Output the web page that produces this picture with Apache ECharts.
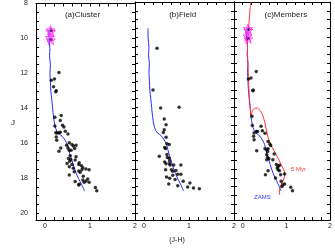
<!DOCTYPE html>
<html><head><meta charset="utf-8">
<script src="https://cdn.jsdelivr.net/npm/echarts@6/dist/echarts.min.js"></script>
<style>html,body{margin:0;padding:0;background:#fff}#c{width:335px;height:252px}</style>
</head><body><div id="c"></div>
<script>
// Panel titles and axis labels
const panelTitles = ['(a)Cluster', '(b)Field', '(c)Members'];
const xTitle = '(J-H)';
const yTitle = 'J';

// (a) Cluster stars
const clusterJH = [0.14,0.13,0.31,0.14,0.21,0.19,0.24,0.25,0.22,0.36,0.34,0.39,0.42,0.22,0.45,0.24,0.27,0.31,0.34,0.51,0.25,0.26,0.35,0.31,0.48,0.54,0.60,0.63,0.69,0.66,0.54,0.58,0.51,0.56,0.52,0.57,0.55,0.69,0.67,0.49,0.54,0.60,0.63,0.54,0.75,0.76,0.81,0.84,0.91,0.75,0.78,0.82,0.98,0.85,0.95,0.91,0.98,0.87,0.76,0.67,0.84,1.12,1.15,0.75,0.65];
const clusterJ  = [9.55,10.08,11.95,12.39,12.33,12.77,13.05,13.0,14.51,14.41,14.7,14.98,15.08,15.02,15.32,15.4,15.42,15.4,15.37,15.48,15.64,15.83,16.27,16.46,16.12,15.97,16.08,16.16,16.12,16.31,16.40,16.40,16.27,16.72,16.88,16.93,17.03,16.78,16.97,17.16,17.35,17.22,17.44,17.82,17.22,17.12,17.29,17.41,17.48,17.60,17.67,17.52,17.52,17.90,18.05,18.16,18.24,18.24,18.35,18.20,18.11,18.54,18.73,18.39,17.63];

// (b) Field stars
const fieldJH = [0.29,0.20,0.37,0.78,0.45,0.49,0.45,0.43,0.49,0.51,0.56,0.46,0.48,0.34,0.51,0.52,0.56,0.57,0.46,0.49,0.57,0.58,0.66,0.82,0.48,0.61,0.64,0.71,0.82,0.75,0.64,0.57,0.69,0.87,0.55,0.75,1.02,0.97,1.10,1.23,0.50];
const fieldJ  = [10.63,13.0,14.03,13.98,14.66,14.98,15.26,15.42,15.70,16.06,16.10,16.27,16.34,16.78,16.68,16.84,16.89,17.05,17.1,17.2,17.2,17.27,17.27,17.27,17.54,17.54,17.63,17.58,17.8,17.8,17.86,18.03,18.1,18.2,18.35,18.45,18.3,18.52,18.58,18.62,17.95];

// (c) Members
const memberJH = [0.14,0.13,0.31,0.13,0.19,0.23,0.24,0.21,0.22,0.31,0.34,0.26,0.42,0.45,0.51,0.25,0.26,0.32,0.58,0.51,0.55,0.58,0.57,0.62,0.64,0.55,0.57,0.60,0.55,0.72,0.69,0.52,0.58,0.77,0.81,0.84,0.79,0.81,0.84,0.75,0.87,0.96,0.88,0.92,0.90,0.96,1.10,1.14];
const memberJ  = [9.55,10.08,11.95,12.38,12.33,13.05,13.0,14.5,15.03,15.36,15.36,15.45,15.07,15.32,15.47,15.64,15.83,16.46,15.93,16.35,16.40,16.35,16.50,16.08,16.16,16.69,16.84,16.91,16.97,16.65,16.97,17.82,17.6,17.25,17.35,17.29,17.44,17.54,17.6,18.01,17.82,17.78,18.2,18.39,18.49,18.35,18.54,18.73];

// Bright (magenta star) sources
const brightJH = [0.12,0.13,0.11,0.13];
const brightJ  = [9.52,9.62,9.95,10.1];

// ZAMS curve
const zamsJH = [0.09,0.09,0.11,0.10,0.12,0.11,0.12,0.13,0.15,0.17,0.19,0.22,0.26,0.30,0.38,0.45,0.50,0.55,0.60,0.66,0.74,0.81,0.88];
const zamsJ  = [9.5,10.0,10.6,11.0,11.5,12.0,12.5,13.0,13.5,14.0,14.5,15.0,15.3,15.45,15.6,15.85,16.1,16.6,17.0,17.5,18.0,18.35,18.75];

// 5 Myr isochrone
const isoJH = [0.19,0.17,0.15,0.13,0.11,0.11,0.12,0.13,0.15,0.17,0.19,0.22,0.27,0.33,0.39,0.45,0.51,0.56,0.60,0.66,0.77,0.88,0.96,0.95,0.88,0.84,0.84];
const isoJ  = [8.0,8.35,9.0,9.6,10.15,10.9,11.6,12.24,13.38,14.0,14.5,14.2,14.05,14.03,14.15,14.4,14.9,15.5,15.85,16.21,16.69,17.26,17.73,18.0,18.39,18.68,18.96];

const xTicks = [0, 1, 2];
const yTicks = [8, 10, 12, 14, 16, 18, 20];

const zip = (a, b) => a.map((v, i) => [v, b[i]]);
const starPath = 'path://M0,-10 L2.35,-3.24 L9.51,-3.09 L3.8,1.24 L5.88,8.09 L0,4 L-5.88,8.09 L-3.8,1.24 L-9.51,-3.09 L-2.35,-3.24 Z';
const FONT = 'Liberation Sans';
const lefts = [36, 135, 234];
const grids = lefts.map(l => ({left: l, top: 2, width: 99, height: 218}));

const xAxes = [], yAxes = [];
const isTick = (v, arr) => arr.some(t => Math.abs(v - t) < 1e-6);
lefts.forEach((l, i) => {
  ['bottom', 'top'].forEach(pos => {
    xAxes.push({
      type: 'value', gridIndex: i, position: pos, min: -0.2, max: 2, interval: 0.2,
      axisLine: {show: true, onZero: false, lineStyle: {color: '#000', width: 1}},
      axisTick: {show: true, inside: true, length: 3, lineStyle: {color: '#000'}},
      splitLine: {show: false},
      axisLabel: {show: pos === 'bottom', margin: 3, fontSize: 7, color: '#222', fontFamily: FONT,
        showMinLabel: true, showMaxLabel: true,
        formatter: v => isTick(v, xTicks) ? String(Math.round(v)) : ''}
    });
  });
  ['left', 'right'].forEach(pos => {
    yAxes.push({
      type: 'value', gridIndex: i, position: pos, inverse: true, min: 8, max: 20.4, interval: 0.5,
      axisLine: {show: true, onZero: false, lineStyle: {color: '#000', width: 1}},
      axisTick: {show: true, inside: true, length: 3, lineStyle: {color: '#000'}},
      splitLine: {show: false},
      axisLabel: {show: pos === 'left' && i === 0, margin: 8, fontSize: 7, color: '#222', fontFamily: FONT,
        showMaxLabel: false,
        formatter: v => isTick(v, yTicks) ? String(Math.round(v)) : ''}
    });
  });
});

const dots = (jh, j, gi) => ({
  type: 'scatter', xAxisIndex: gi * 2, yAxisIndex: gi * 2, data: zip(jh, j),
  symbol: 'circle', symbolSize: 3.5, itemStyle: {color: '#000'}, silent: true, z: 3
});
const curve = (jh, j, gi, color, z) => ({
  type: 'line', xAxisIndex: gi * 2, yAxisIndex: gi * 2, data: zip(jh, j),
  showSymbol: false, smooth: 0.3, lineStyle: {color: color, width: 1}, silent: true, z: z, clip: true
});
const stars = gi => ({
  type: 'scatter', xAxisIndex: gi * 2, yAxisIndex: gi * 2, data: zip(brightJH, brightJ),
  symbol: starPath, symbolSize: 9,
  itemStyle: {color: 'rgba(255,0,255,0)', borderColor: '#ff22ff', borderWidth: 1}, silent: true, z: 4
});

const series = [
  curve(zamsJH, zamsJ, 0, '#2a2aff', 2), dots(clusterJH, clusterJ, 0), stars(0),
  curve(zamsJH, zamsJ, 1, '#2a2aff', 2), dots(fieldJH, fieldJ, 1),
  curve(zamsJH, zamsJ, 2, '#2a2aff', 2), curve(isoJH, isoJ, 2, '#ff3333', 3),
  dots(memberJH, memberJ, 2), stars(2)
];

const titleX = [82.5, 182.7, 285.8];
const graphic = panelTitles.map((t, i) => ({
  type: 'text', x: titleX[i], y: 15, silent: true,
  style: {text: t, fontSize: 8, fontFamily: FONT, fill: '#222', textAlign: 'center', textVerticalAlign: 'middle'}
}));
graphic.push({type: 'text', x: 13, y: 123, style: {text: yTitle, fontSize: 8, fontFamily: FONT, fill: '#222', textAlign: 'center', textVerticalAlign: 'middle'}});
graphic.push({type: 'text', x: 177, y: 240, style: {text: xTitle, fontSize: 7, fontFamily: FONT, fill: '#222', textAlign: 'center', textVerticalAlign: 'middle'}});
graphic.push({type: 'text', x: 291, y: 169, style: {text: '5 Myr', fontSize: 6, fontFamily: FONT, fill: '#ff3333', textAlign: 'left', textVerticalAlign: 'middle'}});
graphic.push({type: 'text', x: 254, y: 197, style: {text: 'ZAMS', fontSize: 6, fontFamily: FONT, fill: '#3333ff', textAlign: 'left', textVerticalAlign: 'middle'}});

const chart = echarts.init(document.getElementById('c'), null, {renderer: 'canvas'});
chart.setOption({animation: false, grid: grids, xAxis: xAxes, yAxis: yAxes, series: series, graphic: graphic});
</script></body></html>
